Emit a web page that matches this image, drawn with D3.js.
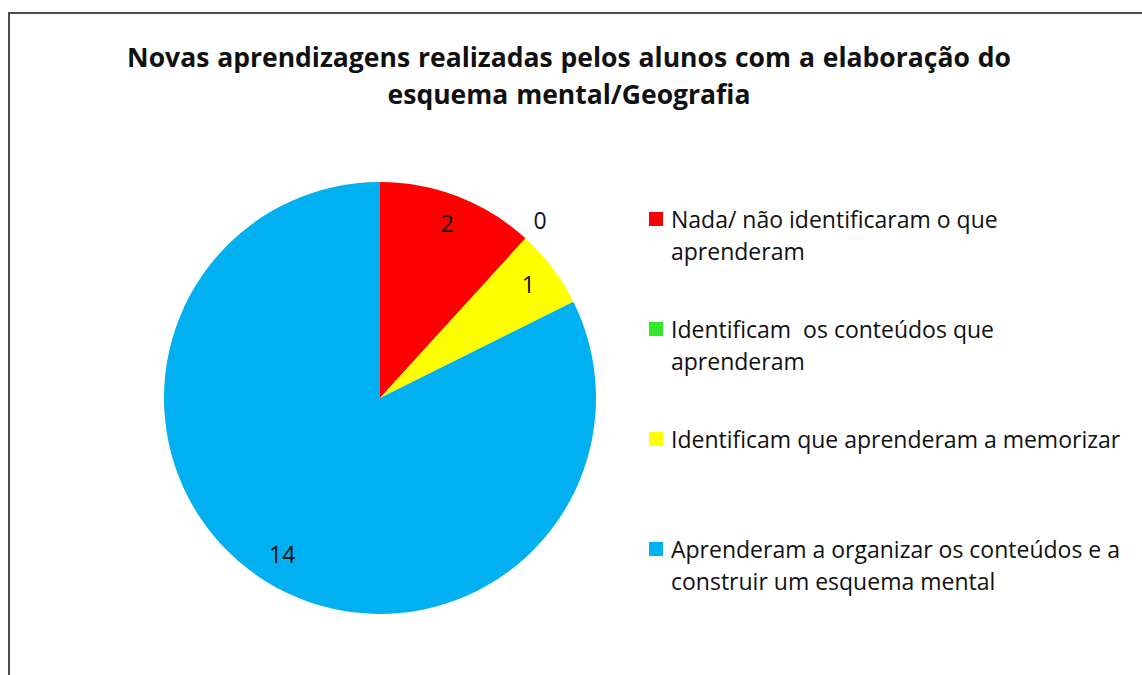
<!DOCTYPE html>
<html>
<head>
<meta charset="utf-8">
<script src="https://cdn.jsdelivr.net/npm/d3@7"></script>
<style>
  body { margin: 0; background: #fff; }
  svg text { font-family: "Open Sans", "Noto Sans", sans-serif; fill: #111; }
</style>
</head>
<body>
<svg id="chart" width="1142" height="675"></svg>
<script>
// data
var categories = [
  ["Nada/ não identificaram o que", "aprenderam"],
  ["Identificam  os conteúdos que", "aprenderam"],
  ["Identificam que aprenderam a memorizar"],
  ["Aprenderam a organizar os conteúdos e a", "construir um esquema mental"]
];
var values = [2, 0, 1, 14];
var colors = ["#ff0000", "#33e82a", "#ffff00", "#00b0f0"];
var titleLines = ["Novas aprendizagens realizadas pelos alunos com a elaboração do", "esquema mental/Geografia"];

var svg = d3.select("#chart");

// chart area frame (only left and top edges fall inside the picture)
svg.append("rect")
  .attr("x", 9).attr("y", 13)
  .attr("width", 1200).attr("height", 700)
  .attr("fill", "none")
  .attr("stroke", "#4d4d4d")
  .attr("stroke-width", 2);

// title
svg.append("g").selectAll("text")
  .data(titleLines)
  .enter().append("text")
  .attr("x", 569)
  .attr("y", function(d, i) { return 67 + i * 37; })
  .attr("text-anchor", "middle")
  .attr("font-size", 26.5)
  .attr("font-weight", "bold")
  .attr("style", "word-spacing:1px")
  .text(function(d) { return d; });

// pie
var cx = 380, cy = 398, r = 216;
var pie = d3.pie().sort(null).value(function(d) { return d; });
var arcs = pie(values);
var arc = d3.arc().innerRadius(0).outerRadius(r);
var labelArc = d3.arc().innerRadius(r * 0.86).outerRadius(r * 0.86);
var zeroArc = d3.arc().innerRadius(r * 1.1).outerRadius(r * 1.1);

var g = svg.append("g").attr("transform", "translate(" + cx + "," + cy + ")");
g.selectAll("path")
  .data(arcs)
  .enter().append("path")
  .attr("d", arc)
  .attr("fill", function(d, i) { return colors[i]; });

g.selectAll("text.lbl")
  .data(arcs)
  .enter().append("text")
  .attr("class", "lbl")
  .attr("transform", function(d) {
    var c = d.value === 0 ? zeroArc.centroid(d) : labelArc.centroid(d);
    return "translate(" + c + ")";
  })
  .attr("text-anchor", "middle")
  .attr("dy", "0.3em")
  .attr("font-size", 23)
  .text(function(d) { return d.value; });

// legend
var legendY = [219, 329, 439, 549];
var legend = svg.append("g").attr("transform", "translate(649,0)");
var items = legend.selectAll("g")
  .data(categories)
  .enter().append("g")
  .attr("transform", function(d, i) { return "translate(0," + legendY[i] + ")"; });

items.append("rect")
  .attr("x", 0).attr("y", -7)
  .attr("width", 14).attr("height", 14)
  .attr("fill", function(d, i) { return colors[i]; });

items.each(function(lines) {
  d3.select(this).selectAll("text")
    .data(lines)
    .enter().append("text")
    .attr("x", 22)
    .attr("y", function(d, j) { return 9 + j * 32; })
    .attr("font-size", 23)
    .attr("style", "white-space:pre")
    .text(function(d) { return d; });
});
</script>
</body>
</html>
